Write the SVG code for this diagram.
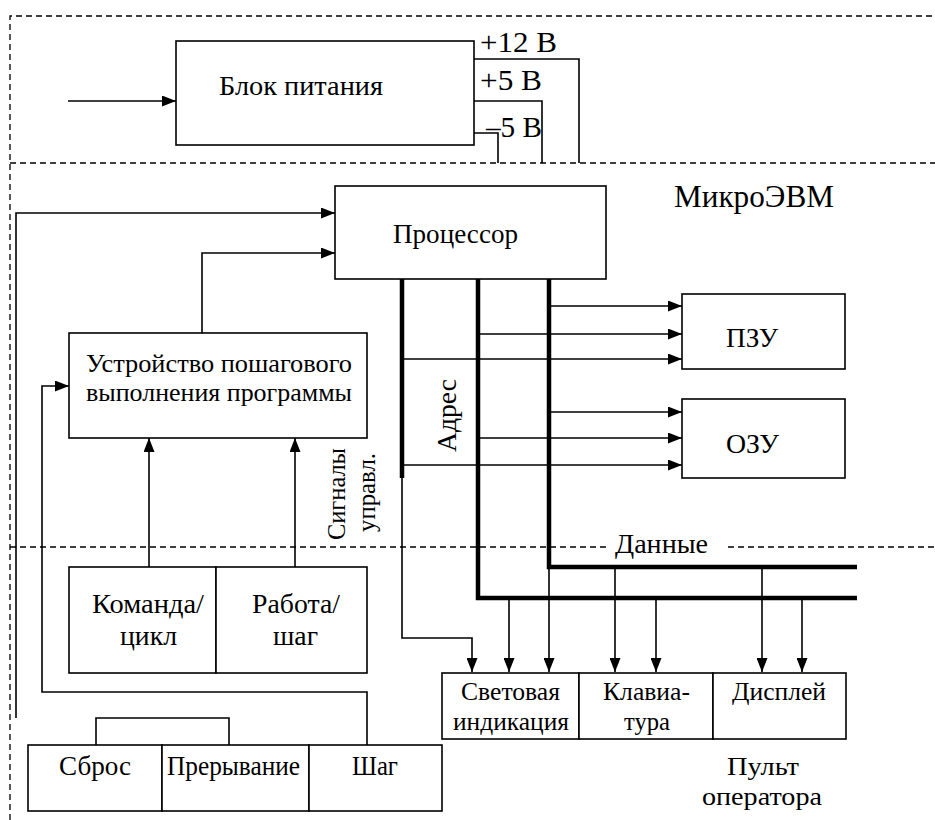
<svg xmlns="http://www.w3.org/2000/svg" width="935" height="820" viewBox="0 0 935 820">
<style>
.bg{fill:#fff}
.box{fill:#fff;stroke:#000;stroke-width:1.6}
.dash{fill:none;stroke:#000;stroke-width:1.3;stroke-dasharray:6 4}
.ln{fill:none;stroke:#000;stroke-width:1.6}
.bus{fill:none;stroke:#000;stroke-width:4.5}
.arr{marker-end:url(#ah)}
.t{font-family:'Liberation Serif','Times New Roman',serif;fill:#000;font-size:27px}
.s25{font-size:25px}
.s26{font-size:26px}
.s28{font-size:28px}
.s30{font-size:30px}
.s31{font-size:31px}
</style>
<defs>
<marker id="ah" markerUnits="userSpaceOnUse" markerWidth="14" markerHeight="11" refX="14" refY="5.5" orient="auto">
<path d="M0,0 L14,5.5 L0,11 z" fill="#000"/>
</marker>
</defs>
<rect class="bg" x="0" y="0" width="935" height="820"/>

<g id="boundaries">
<path class="dash" d="M10,820 V16 H935"/>
<path class="dash" d="M10,163 H935"/>
<path class="dash" d="M10,547 H610 M728,547 H935"/>
</g>

<g id="connectors">
<path class="ln arr" d="M68,101 H176" stroke-width="2.4"/>
<path class="ln" d="M474,59 H579 V163"/>
<path class="ln" d="M474,101 H542 V163"/>
<path class="ln" d="M474,133 H498 V163"/>

<path class="ln arr" d="M16,718 V213 H335"/>
<path class="ln" d="M96,745 V718 H229 V745"/>
<path class="ln arr" d="M202,333 V253 H335"/>
<path class="ln arr" d="M367,745 V692 H42 V386 H69"/>
<path class="ln arr" d="M149,567 V438"/>
<path class="ln arr" d="M295,567 V438"/>

<path class="bus" d="M402,279 V478"/>
<path class="bus" d="M478,279 V598 H857"/>
<path class="bus" d="M549,279 V567 H857"/>

<path class="ln arr" d="M549,306 H682"/>
<path class="ln arr" d="M478,334 H682"/>
<path class="ln arr" d="M402,359 H682"/>
<path class="ln arr" d="M549,412 H682"/>
<path class="ln arr" d="M478,438 H682"/>
<path class="ln arr" d="M402,465 H682"/>

<path class="ln arr" d="M402,478 V638 H472 V672"/>
<path class="ln arr" d="M509,598 V672"/>
<path class="ln arr" d="M549,567 V672"/>
<path class="ln arr" d="M615,567 V672"/>
<path class="ln arr" d="M656,598 V672"/>
<path class="ln arr" d="M762,567 V672"/>
<path class="ln arr" d="M802,598 V672"/>
</g>

<g id="labels">
<text class="t s30" x="480" y="52" textLength="77" lengthAdjust="spacingAndGlyphs">+12 В</text>
<text class="t s30" x="480" y="90" textLength="62" lengthAdjust="spacingAndGlyphs">+5 В</text>
<text class="t s30" x="486" y="137" textLength="56" lengthAdjust="spacingAndGlyphs">–5 В</text>
<text class="t s31" x="674" y="207" textLength="160" lengthAdjust="spacingAndGlyphs">МикроЭВМ</text>
<text class="t s28" x="0" y="0" transform="translate(456,452) rotate(-90)" textLength="73" lengthAdjust="spacingAndGlyphs">Адрес</text>
<text class="t s25" x="0" y="0" transform="translate(345,540) rotate(-90)" textLength="92" lengthAdjust="spacingAndGlyphs">Сигналы</text>
<text class="t s25" x="0" y="0" transform="translate(375,532) rotate(-90)" textLength="79" lengthAdjust="spacingAndGlyphs">управл.</text>
<text class="t s28" x="615" y="553" textLength="93" lengthAdjust="spacingAndGlyphs">Данные</text>
<text class="t s26" x="727" y="775" textLength="72" lengthAdjust="spacingAndGlyphs">Пульт</text>
<text class="t s26" x="702" y="805" textLength="120" lengthAdjust="spacingAndGlyphs">оператора</text>
</g>

<g id="power-supply">
<rect class="box" x="176" y="41" width="298" height="104"/>
<text class="t" x="219" y="95" textLength="164" lengthAdjust="spacingAndGlyphs">Блок питания</text>
</g>

<g id="processor">
<rect class="box" x="335" y="186" width="271" height="93"/>
<text class="t" x="393" y="243" textLength="125" lengthAdjust="spacingAndGlyphs">Процессор</text>
</g>

<g id="rom">
<rect class="box" x="682" y="294" width="163" height="75"/>
<text class="t" x="726" y="347" textLength="52" lengthAdjust="spacingAndGlyphs">ПЗУ</text>
</g>

<g id="ram">
<rect class="box" x="682" y="399" width="163" height="79"/>
<text class="t" x="726" y="453" textLength="53" lengthAdjust="spacingAndGlyphs">ОЗУ</text>
</g>

<g id="step-unit">
<rect class="box" x="69" y="333" width="298" height="105"/>
<text class="t s26" x="86" y="372" textLength="266" lengthAdjust="spacingAndGlyphs">Устройство пошагового</text>
<text class="t s26" x="86" y="401" textLength="266" lengthAdjust="spacingAndGlyphs">выполнения программы</text>
</g>

<g id="command-cycle">
<rect class="box" x="69" y="567" width="147" height="106"/>
<text class="t" x="92" y="613" textLength="112" lengthAdjust="spacingAndGlyphs">Команда/</text>
<text class="t" x="120" y="645" textLength="57" lengthAdjust="spacingAndGlyphs">цикл</text>
</g>

<g id="run-step">
<rect class="box" x="216" y="567" width="151" height="106"/>
<text class="t" x="252" y="613" textLength="88" lengthAdjust="spacingAndGlyphs">Работа/</text>
<text class="t" x="273" y="645" textLength="45" lengthAdjust="spacingAndGlyphs">шаг</text>
</g>

<g id="reset">
<rect class="box" x="28" y="745" width="134" height="66"/>
<text class="t" x="59" y="775" textLength="72" lengthAdjust="spacingAndGlyphs">Сброс</text>
</g>

<g id="interrupt">
<rect class="box" x="162" y="745" width="147" height="66"/>
<text class="t" x="167" y="775" textLength="133" lengthAdjust="spacingAndGlyphs">Прерывание</text>
</g>

<g id="step">
<rect class="box" x="309" y="745" width="133" height="66"/>
<text class="t" x="352" y="775" textLength="46" lengthAdjust="spacingAndGlyphs">Шаг</text>
</g>

<g id="light-indication">
<rect class="box" x="442" y="673" width="137" height="66"/>
<text class="t s26" x="461" y="700" textLength="99" lengthAdjust="spacingAndGlyphs">Световая</text>
<text class="t s26" x="453" y="730" textLength="116" lengthAdjust="spacingAndGlyphs">индикация</text>
</g>

<g id="keyboard">
<rect class="box" x="579" y="673" width="134" height="66"/>
<text class="t s26" x="603" y="700" textLength="87" lengthAdjust="spacingAndGlyphs">Клавиа-</text>
<text class="t s26" x="624" y="730" textLength="46" lengthAdjust="spacingAndGlyphs">тура</text>
</g>

<g id="display">
<rect class="box" x="713" y="673" width="133" height="66"/>
<text class="t s26" x="732" y="700" textLength="94" lengthAdjust="spacingAndGlyphs">Дисплей</text>
</g>
</svg>
